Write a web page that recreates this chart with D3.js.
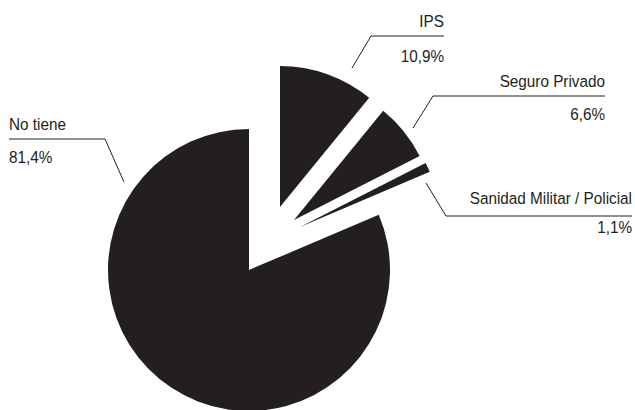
<!DOCTYPE html>
<html>
<head>
<meta charset="utf-8">
<script src="https://cdn.jsdelivr.net/npm/d3@7.9.0/dist/d3.min.js"></script>
<style>
  html, body { margin: 0; padding: 0; background: #fff; }
  svg { display: block; }
  .lbl { font-family: "Liberation Sans", Arial, sans-serif; font-size: 17px; fill: #231f20; }
</style>
</head>
<body>
<svg width="635" height="410"></svg>
<script>
const categories = ['IPS', 'Seguro Privado', 'Sanidad Militar / Policial', 'No tiene'];
const values = [10.9, 6.6, 1.1, 81.4];

const data = categories.map((c, i) => ({ label: c, value: values[i] }));

// layout only: explode shift per slice, label anchor, leader line
const layout = {
  'IPS': { shift: [31, -63], anchor: 'end', x: 444, nameY: 27, valY: 62,
    line: [[352, 68], [371, 36], [444, 36]] },
  'Seguro Privado': { shift: [45, -50], anchor: 'end', x: 605, nameY: 87, valY: 120,
    line: [[413, 128], [433, 96], [605, 96]] },
  'Sanidad Militar / Policial': { shift: [51, -43], anchor: 'end', x: 632, nameY: 204, valY: 233,
    line: [[426, 183], [446, 216], [632, 216]] },
  'No tiene': { shift: [0, 0], anchor: 'start', x: 9, nameY: 130, valY: 163,
    line: [[124, 182], [105, 139], [9, 139]] }
};

const cx = 249, cy = 270, r = 141;
const squeeze = 0.9; // condensed look
const fmt = d3.formatLocale({ decimal: ',', thousands: '.', grouping: [3], currency: ['', ''] }).format('.1f');

const svg = d3.select('svg');

const pie = d3.pie().sort(null).value(d => d.value).startAngle(0);
const arc = d3.arc().innerRadius(0).outerRadius(r);

svg.append('g')
  .attr('transform', `translate(${cx},${cy})`)
  .selectAll('path')
  .data(pie(data))
  .join('path')
  .attr('d', arc)
  .attr('fill', '#231f20')
  .attr('transform', d => `translate(${layout[d.data.label].shift})`);

const line = d3.line();
svg.append('g').selectAll('path')
  .data(data)
  .join('path')
  .attr('d', d => line(layout[d.label].line))
  .attr('fill', 'none')
  .attr('stroke', '#231f20')
  .attr('stroke-width', 1);

const labels = svg.append('g').selectAll('g')
  .data(data)
  .join('g');

labels.append('text')
  .attr('class', 'lbl')
  .attr('transform', d => `translate(${layout[d.label].x},${layout[d.label].nameY}) scale(${squeeze},1)`)
  .attr('text-anchor', d => layout[d.label].anchor)
  .text(d => d.label);

labels.append('text')
  .attr('class', 'lbl')
  .attr('transform', d => `translate(${layout[d.label].x},${layout[d.label].valY}) scale(${squeeze},1)`)
  .attr('text-anchor', d => layout[d.label].anchor)
  .text(d => fmt(d.value) + '%');
</script>
</body>
</html>
